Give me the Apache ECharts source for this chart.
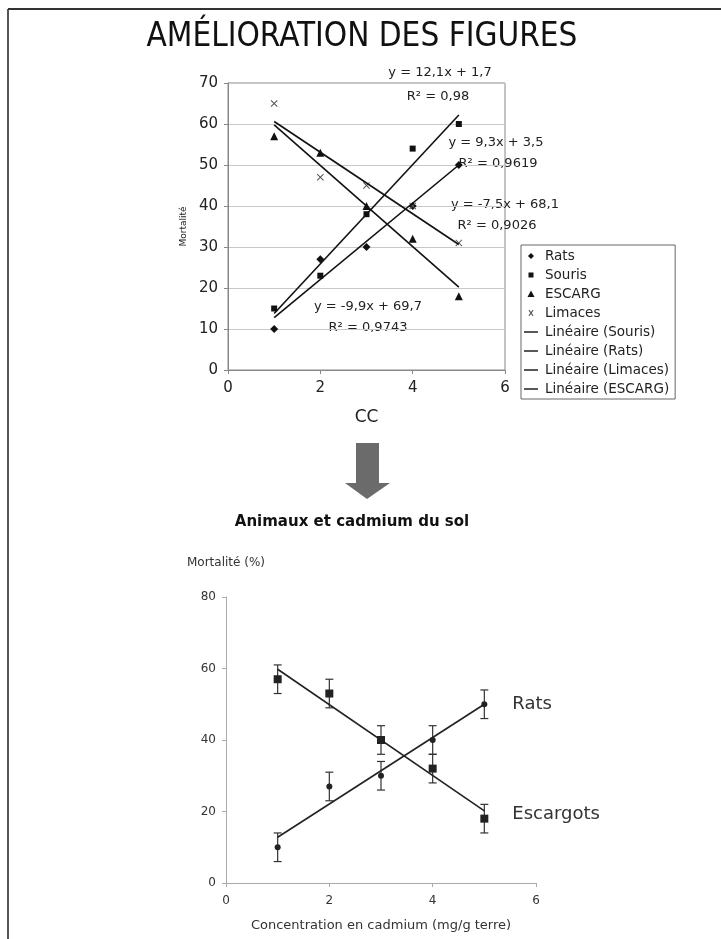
<!DOCTYPE html>
<html>
<head>
<meta charset="utf-8">
<script src="https://cdn.jsdelivr.net/npm/echarts@6/dist/echarts.min.js"></script>
<style>
  html, body { margin: 0; padding: 0; background: #fff; }
  #chart { width: 721px; height: 939px; }
</style>
</head>
<body>
<div id="chart"></div>
<script>
// concentrations (x)
const cc = [1, 2, 3, 4, 5];
// mortalité par espèce
const rats = [10, 27, 30, 40, 50];
const souris = [15, 23, 38, 54, 60];
const escarg = [57, 53, 40, 32, 18];
const limaces = [65, 47, 45, 40, 31];
// erreur (±) du graphique du bas
const errRats = [4, 4, 4, 4, 4];
const errEscarg = [4, 4, 4, 4, 4];
// droites de régression : [pente, ordonnée]
const fitSouris = [12.1, 1.7];
const fitRats = [9.3, 3.5];
const fitLimaces = [-7.5, 68.1];
const fitEscarg = [-9.9, 69.7];
// ticks
const xTicksTop = [0, 2, 4, 6];
const yTicksTop = [0, 10, 20, 30, 40, 50, 60, 70];
const yTicksBottom = [0, 20, 40, 60, 80];

const pts = (ys) => cc.map((x, i) => [x, ys[i]]);
const fitLine = (f) => [cc[0], cc[cc.length - 1]].map(x => [x, +(f[0] * x + f[1]).toFixed(2)]);
const errData = (ys, es) => cc.map((x, i) => [x, ys[i] - es[i], ys[i] + es[i]]);

const FONT = 'DejaVu Sans';
const crossPath = 'path://M0,1L1,0L5,4L9,0L10,1L6,5L10,9L9,10L5,6L1,10L0,9L4,5Z';

// icônes de la légende (les points aux coins fixent la boîte)
const BOX = 'M0,0L0,0M14,8L14,8';
const icoDiamond = 'path://' + BOX + 'M7,1L10,4L7,7L4,4Z';
const icoSquare = 'path://' + BOX + 'M4.5,1.5H9.5V6.5H4.5Z';
const icoTriangle = 'path://' + BOX + 'M7,0.5L10.5,7H3.5Z';
const icoCross = 'path://' + BOX + 'M4.5,1.5L5.3,0.8L7,2.9L8.7,0.8L9.5,1.5L7.7,4L9.5,6.5L8.7,7.2L7,5.1L5.3,7.2L4.5,6.5L6.3,4Z';
const icoLine = 'path://' + BOX + 'M0,3.3H14V4.7H0Z';

let myChart = echarts.init(document.getElementById('chart'));

function errorBar(params, api) {
  const lo = api.coord([api.value(0), api.value(1)]);
  const hi = api.coord([api.value(0), api.value(2)]);
  const w = 4;
  const st = { stroke: '#333', lineWidth: 1.2 };
  return {
    type: 'group',
    children: [
      { type: 'line', shape: { x1: lo[0], y1: lo[1], x2: hi[0], y2: hi[1] }, style: st },
      { type: 'line', shape: { x1: lo[0] - w, y1: lo[1], x2: lo[0] + w, y2: lo[1] }, style: st },
      { type: 'line', shape: { x1: hi[0] - w, y1: hi[1], x2: hi[0] + w, y2: hi[1] }, style: st }
    ]
  };
}

const eqStyle = { fontFamily: FONT, fontSize: 13, fill: '#222', textAlign: 'center', textVerticalAlign: 'middle' };
const eqText = (x, y, text) => ({ type: 'text', x: x, y: y, style: Object.assign({ text: text }, eqStyle) });

const trendStyle = { color: '#111', width: 1.6 };

var option = {
  animation: false,
  backgroundColor: '#fff',
  textStyle: { fontFamily: FONT },
  graphic: [
    // cadre
    { type: 'line', shape: { x1: 8, y1: 9, x2: 8, y2: 939 }, style: { stroke: '#555', lineWidth: 2 } },
    { type: 'line', shape: { x1: 8, y1: 9, x2: 721, y2: 9 }, style: { stroke: '#333', lineWidth: 2 } },
    // titre
    { type: 'text', x: 362, y: 37, style: { text: 'AMÉLIORATION DES FIGURES', fontFamily: 'DejaVu Sans Condensed', fontSize: 33, fill: '#111', textAlign: 'center', textVerticalAlign: 'middle' } },
    // équations
    eqText(440, 73, 'y = 12,1x + 1,7'),
    eqText(438, 97, 'R² = 0,98'),
    eqText(496, 143, 'y = 9,3x + 3,5'),
    eqText(498, 164, 'R² = 0,9619'),
    eqText(505, 205, 'y = -7,5x + 68,1'),
    eqText(497, 226, 'R² = 0,9026'),
    eqText(368, 307, 'y = -9,9x + 69,7'),
    eqText(368, 328, 'R² = 0,9743'),
    // flèche
    { type: 'polygon', shape: { points: [[356, 443], [379, 443], [379, 483], [390, 483], [367, 499], [345, 483], [356, 483]] }, style: { fill: '#6b6b6b' } },
    // titre du bas
    { type: 'text', x: 352, y: 522, style: { text: 'Animaux et cadmium du sol', fontFamily: FONT, fontSize: 15, fontWeight: 'bold', fill: '#111', textAlign: 'center', textVerticalAlign: 'middle' } }
  ],
  legend: {
    orient: 'vertical',
    left: 521,
    top: 245,
    padding: [4, 6, 3, 3],
    itemGap: 5,
    itemWidth: 14,
    itemHeight: 14,
    borderColor: '#666',
    borderWidth: 1,
    textStyle: { fontFamily: FONT, fontSize: 13.5, color: '#222', padding: [0, 0, 0, 2] },
    data: [
      { name: 'Rats', icon: icoDiamond },
      { name: 'Souris', icon: icoSquare },
      { name: 'ESCARG', icon: icoTriangle },
      { name: 'Limaces', icon: icoCross },
      { name: 'Linéaire (Souris)', icon: icoLine },
      { name: 'Linéaire (Rats)', icon: icoLine },
      { name: 'Linéaire (Limaces)', icon: icoLine },
      { name: 'Linéaire (ESCARG)', icon: icoLine }
    ]
  },
  grid: [
    { left: 228, right: 216, top: 83, bottom: 569, show: true, borderColor: '#888', borderWidth: 1 },
    { left: 226, right: 185, top: 597, bottom: 56 }
  ],
  xAxis: [
    {
      gridIndex: 0, type: 'value', min: xTicksTop[0], max: xTicksTop[xTicksTop.length - 1], interval: 2,
      name: 'CC', nameLocation: 'middle', nameGap: 39,
      nameTextStyle: { fontFamily: FONT, fontSize: 17, color: '#222' },
      axisLine: { lineStyle: { color: '#888' } },
      axisTick: { length: 4, lineStyle: { color: '#888' } },
      axisLabel: { fontSize: 15, color: '#222', margin: 11 },
      splitLine: { show: false }
    },
    {
      gridIndex: 1, type: 'value', min: 0, max: 6, interval: 2,
      name: 'Concentration en cadmium (mg/g terre)', nameLocation: 'middle', nameGap: 36,
      nameTextStyle: { fontFamily: FONT, fontSize: 13, color: '#333' },
      axisLine: { lineStyle: { color: '#aaa' } },
      axisTick: { length: 4, lineStyle: { color: '#aaa' } },
      axisLabel: { fontSize: 12, color: '#333', margin: 12 },
      splitLine: { show: false }
    }
  ],
  yAxis: [
    {
      gridIndex: 0, type: 'value', min: yTicksTop[0], max: yTicksTop[yTicksTop.length - 1], interval: 10,
      name: 'Mortalité', nameLocation: 'middle', nameGap: 40,
      nameTextStyle: { fontFamily: FONT, fontSize: 9, color: '#222' },
      axisLine: { show: true, lineStyle: { color: '#888' } },
      axisTick: { show: true, length: 4, lineStyle: { color: '#888' } },
      axisLabel: { fontSize: 15, color: '#222', margin: 10 },
      splitLine: { show: true, lineStyle: { color: '#c8c8c8' } }
    },
    {
      gridIndex: 1, type: 'value', min: yTicksBottom[0], max: yTicksBottom[yTicksBottom.length - 1], interval: 20,
      name: 'Mortalité (%)', nameLocation: 'end', nameGap: 28,
      nameTextStyle: { fontFamily: FONT, fontSize: 12, color: '#333', align: 'center' },
      axisLine: { show: true, lineStyle: { color: '#aaa' } },
      axisTick: { show: true, length: 4, lineStyle: { color: '#aaa' } },
      axisLabel: { fontSize: 12, color: '#333', margin: 10 },
      splitLine: { show: false }
    }
  ],
  series: [
    // graphique du haut
    { name: 'Linéaire (Souris)', type: 'line', xAxisIndex: 0, yAxisIndex: 0, data: fitLine(fitSouris), symbol: 'none', lineStyle: trendStyle, itemStyle: { color: '#111' } },
    { name: 'Linéaire (Rats)', type: 'line', xAxisIndex: 0, yAxisIndex: 0, data: fitLine(fitRats), symbol: 'none', lineStyle: trendStyle, itemStyle: { color: '#111' } },
    { name: 'Linéaire (Limaces)', type: 'line', xAxisIndex: 0, yAxisIndex: 0, data: fitLine(fitLimaces), symbol: 'none', lineStyle: trendStyle, itemStyle: { color: '#111' } },
    { name: 'Linéaire (ESCARG)', type: 'line', xAxisIndex: 0, yAxisIndex: 0, data: fitLine(fitEscarg), symbol: 'none', lineStyle: trendStyle, itemStyle: { color: '#111' } },
    { name: 'Rats', type: 'scatter', xAxisIndex: 0, yAxisIndex: 0, data: pts(rats), symbol: 'diamond', symbolSize: 8, itemStyle: { color: '#111', opacity: 1 } },
    { name: 'Souris', type: 'scatter', xAxisIndex: 0, yAxisIndex: 0, data: pts(souris), symbol: 'rect', symbolSize: 6, itemStyle: { color: '#111', opacity: 1 } },
    { name: 'ESCARG', type: 'scatter', xAxisIndex: 0, yAxisIndex: 0, data: pts(escarg), symbol: 'triangle', symbolSize: 8, itemStyle: { color: '#111', opacity: 1 } },
    { name: 'Limaces', type: 'scatter', xAxisIndex: 0, yAxisIndex: 0, data: pts(limaces), symbol: crossPath, symbolSize: 7, itemStyle: { color: '#555', opacity: 1 } },

    // graphique du bas
    {
      name: 'Rats (tendance)', type: 'line', xAxisIndex: 1, yAxisIndex: 1, data: fitLine(fitRats), symbol: 'none',
      lineStyle: { color: '#222', width: 1.6 },
      endLabel: { show: true, formatter: 'Rats', distance: 28, fontFamily: FONT, fontSize: 18, color: '#333' }
    },
    {
      name: 'Escargots (tendance)', type: 'line', xAxisIndex: 1, yAxisIndex: 1, data: fitLine(fitEscarg), symbol: 'none',
      lineStyle: { color: '#222', width: 1.6 },
      endLabel: { show: true, formatter: 'Escargots', distance: 28, fontFamily: FONT, fontSize: 18, color: '#333', offset: [0, 4] }
    },
    { name: 'Rats err', type: 'custom', xAxisIndex: 1, yAxisIndex: 1, data: errData(rats, errRats), renderItem: errorBar, encode: { x: 0, y: [1, 2] }, z: 3 },
    { name: 'Escargots err', type: 'custom', xAxisIndex: 1, yAxisIndex: 1, data: errData(escarg, errEscarg), renderItem: errorBar, encode: { x: 0, y: [1, 2] }, z: 3 },
    { name: 'Rats (bas)', type: 'scatter', xAxisIndex: 1, yAxisIndex: 1, data: pts(rats), symbol: 'circle', symbolSize: 6, itemStyle: { color: '#222', opacity: 1 }, z: 4 },
    { name: 'Escargots (bas)', type: 'scatter', xAxisIndex: 1, yAxisIndex: 1, data: pts(escarg), symbol: 'rect', symbolSize: 8, itemStyle: { color: '#222', opacity: 1 }, z: 4 }
  ]
};
option && myChart.setOption(option);
</script>
</body>
</html>
